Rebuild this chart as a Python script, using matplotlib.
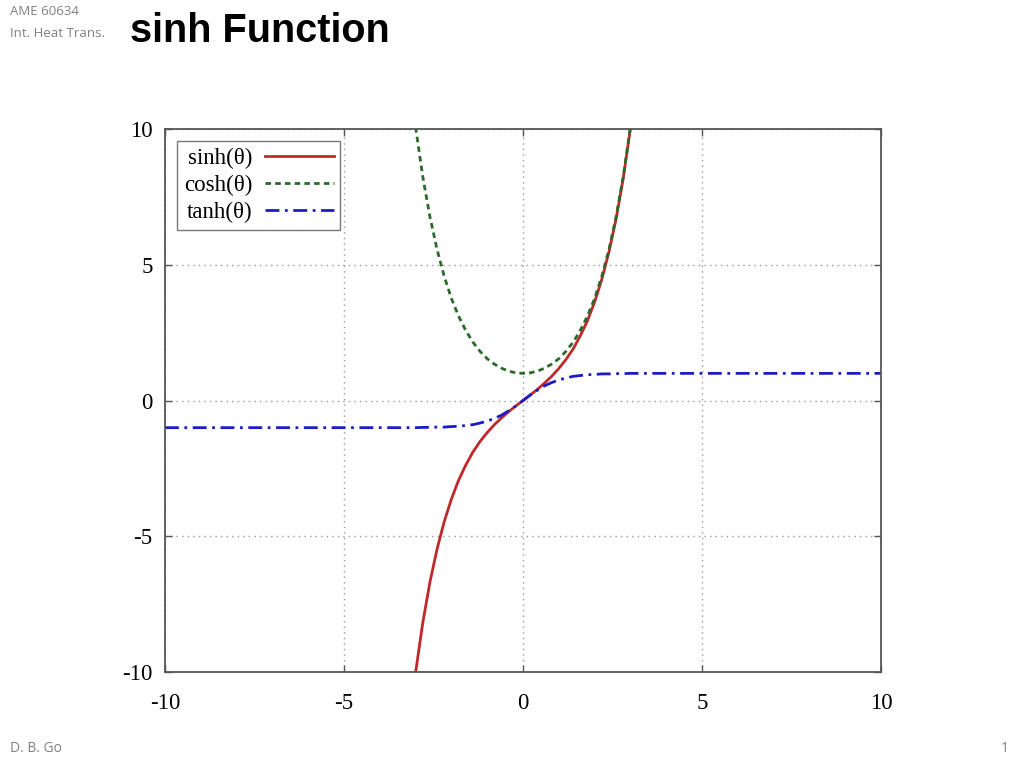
import matplotlib.pyplot as plt

# theta samples and values
theta = [-3.0, -2.8, -2.6, -2.4, -2.2, -2.0, -1.8, -1.6, -1.4, -1.2, -1.0,
         -0.8, -0.6, -0.4, -0.2, 0.0, 0.2, 0.4, 0.6, 0.8, 1.0,
         1.2, 1.4, 1.6, 1.8, 2.0, 2.2, 2.4, 2.6, 2.8, 3.0]
sinh_vals = [-10.02, -8.19, -6.69, -5.47, -4.46, -3.63, -2.94, -2.38, -1.90, -1.51, -1.18,
             -0.89, -0.64, -0.41, -0.20, 0.0, 0.20, 0.41, 0.64, 0.89, 1.18,
             1.51, 1.90, 2.38, 2.94, 3.63, 4.46, 5.47, 6.69, 8.19, 10.02]
cosh_vals = [10.07, 8.25, 6.77, 5.56, 4.57, 3.76, 3.11, 2.58, 2.15, 1.81, 1.54,
             1.34, 1.19, 1.08, 1.02, 1.00, 1.02, 1.08, 1.19, 1.34, 1.54,
             1.81, 2.15, 2.58, 3.11, 3.76, 4.57, 5.56, 6.77, 8.25, 10.07]
tanh_theta = [-10.0, -6.0, -4.0] + theta + [4.0, 6.0, 10.0]
tanh_vals = [-1.0, -1.0, -1.0,
             -1.00, -0.99, -0.99, -0.98, -0.98, -0.96, -0.95, -0.92, -0.89, -0.83, -0.76,
             -0.66, -0.54, -0.38, -0.20, 0.0, 0.20, 0.38, 0.54, 0.66, 0.76,
             0.83, 0.89, 0.92, 0.95, 0.96, 0.98, 0.98, 0.99, 0.99, 1.00,
             1.0, 1.0, 1.0]

labels = ['sinh(θ)', 'cosh(θ)', 'tanh(θ)']
ticks = [-10, -5, 0, 5, 10]

fig = plt.figure(figsize=(10.24, 7.68), dpi=100)
ax = fig.add_axes([0.1611, 0.125, 0.6993, 0.707])

ax.plot(theta, sinh_vals, color='#c0282a', lw=2, label=labels[0])
ax.plot(theta, cosh_vals, color='#2a6a2a', lw=2, ls=(0, (2, 1.5)), label=labels[1])
ax.plot(tanh_theta, tanh_vals, color='#1c1cc4', lw=2, ls=(0, (5, 2, 1, 2)), label=labels[2])

ax.set_xlim(-10, 10)
ax.set_ylim(-10, 10)
ax.set_xticks(ticks)
ax.set_yticks(ticks)
ax.set_xticklabels([str(t) for t in ticks], family='Liberation Serif', fontsize=16.5)
ax.set_yticklabels([str(t) for t in ticks], family='Liberation Serif', fontsize=16.5)
ax.tick_params(direction='in', length=5, width=1, color='#555555', top=True, right=True)
ax.tick_params(axis='x', pad=15)
ax.tick_params(axis='y', pad=9)
ax.grid(True, ls=(0, (1, 3)), color='#999999', lw=1)
for s in ax.spines.values():
    s.set_color('#555555')
    s.set_linewidth(1.3)

leg = ax.legend(loc='upper left', bbox_to_anchor=(0.0168, 0.978), markerfirst=False,
                prop={'family': 'Liberation Serif', 'size': 16.5}, fancybox=False,
                framealpha=1, edgecolor='#777777', handlelength=3.0,
                borderpad=0.3, labelspacing=0.25, handletextpad=0.55, borderaxespad=0)
leg.get_frame().set_linewidth(1)

# slide header and footer
fig.text(0.010, 0.985, 'AME 60634', family='Open Sans', fontsize=9.5, color='#808080', va='center')
fig.text(0.010, 0.956, 'Int. Heat Trans.', family='Open Sans', fontsize=9.5, color='#808080', va='center')
fig.text(0.127, 0.96, 'sinh Function', family='Liberation Sans', fontweight='bold',
         fontsize=28.5, color='black', va='center')
fig.text(0.010, 0.026, 'D. B. Go', family='Open Sans', fontsize=10, color='#808080', va='center')
fig.text(0.985, 0.026, '1', family='Open Sans', fontsize=10, color='#808080', va='center', ha='right')

fig.savefig('out.png', dpi=100)
